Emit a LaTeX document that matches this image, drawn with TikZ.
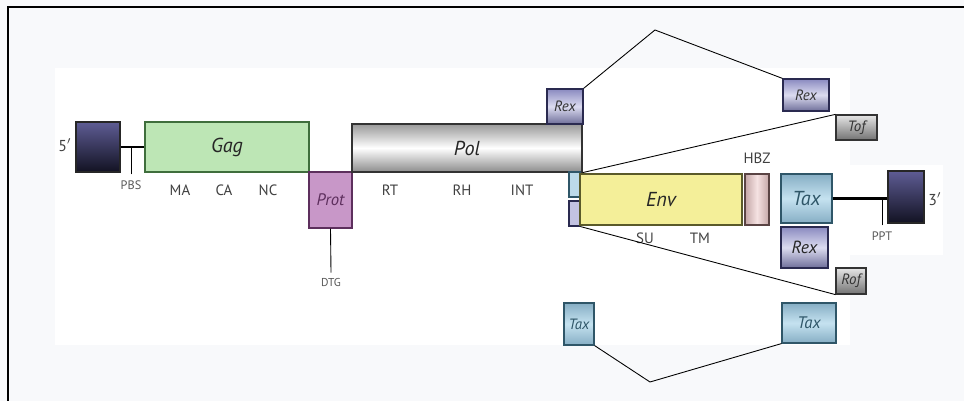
\documentclass[tikz,border=0pt]{standalone}
\usepackage{fontspec}
\setmainfont{PT Sans}

\definecolor{paper}{HTML}{F8F9FB}
\definecolor{ltrtop}{HTML}{5E5C94}
\definecolor{ltrbot}{HTML}{121222}
\definecolor{gagfill}{HTML}{BDE6B5}
\definecolor{gagline}{HTML}{3F6E3C}
\definecolor{protfill}{HTML}{C897C8}
\definecolor{protline}{HTML}{5D2F5D}
\definecolor{envfill}{HTML}{F4EF99}
\definecolor{envline}{HTML}{5A5A2A}
\definecolor{rexmid}{HTML}{DCDCF0}
\definecolor{rexedge}{HTML}{8A8AC0}
\definecolor{rexline}{HTML}{2A2A50}
\definecolor{taxmid}{HTML}{C5E2F0}
\definecolor{taxedge}{HTML}{86AEC4}
\definecolor{taxline}{HTML}{2F5668}
\definecolor{hbzmid}{HTML}{F5E2E2}
\definecolor{hbzedge}{HTML}{C4A6A6}
\definecolor{hbzline}{HTML}{5A4444}

\tikzset{
  seg/.style={draw, inner sep=0pt, line width=0.7pt},
  gene/.style={font=\itshape\fontsize{11.5}{13}\selectfont, text=black!85},
  small/.style={font=\itshape\fontsize{8.5}{10}\selectfont, text=black!80},
  lbl/.style={font=\fontsize{8.5}{10}\selectfont, text=black!75},
  tinylbl/.style={font=\fontsize{6.5}{7}\selectfont, text=black!65},
  ltr/.style={seg, draw=black!85, top color=ltrtop, bottom color=ltrbot},
  rexbox/.style={seg, draw=rexline, top color=rexedge, bottom color=rexedge!80!black, middle color=rexmid},
  taxbox/.style={seg, draw=taxline, top color=taxedge, bottom color=taxedge, middle color=taxmid},
  greybox/.style={seg, draw=black!80, top color=black!10, bottom color=black!55},
  link/.style={line width=0.5pt},
}

\begin{document}
\begin{tikzpicture}[x=0.02cm, y=-0.02cm]
  \useasboundingbox (0,0) rectangle (964,401);
  \fill[paper] (0,0) rectangle (964,401);
  \fill[white] (55,68) rectangle (850,345);
  \fill[white] (850,165) rectangle (943,255);
  \draw[line width=1.1pt] (8,401) -- (8,7) -- (964,7);

  \node[ltr, minimum width=8.8mm, minimum height=10mm] (ltr5) at (98,147) {};
  \node[lbl, font=\fontsize{9}{10}\selectfont] (five) at (65,145) {5$'$};
  \node[seg, draw=gagline, fill=gagfill, minimum width=32.8mm, minimum height=10mm, gene] (gag) at (227,147) {Gag};
  \node[seg, draw=protline, fill=protfill, minimum width=8.6mm, minimum height=11.2mm,
        font=\itshape\fontsize{9.5}{11}\selectfont, text=protline] (prot) at (330.5,200) {Prot};
  \node[seg, draw=black!80, top color=black!40, bottom color=black!45, middle color=white,
        minimum width=46mm, minimum height=9.6mm, gene] (pol) at (467,148) {Pol};

  \node[tinylbl, font=\fontsize{7}{8}\selectfont] (pbs) at (131,185) {PBS};
  \node[tinylbl] (dtg) at (331,283) {DTG};
  \node[lbl] (ma) at (180,190) {MA};
  \node[lbl] (ca) at (224,190) {CA};
  \node[lbl] (nc) at (268,190) {NC};
  \node[lbl] (rt) at (390,190) {RT};
  \node[lbl] (rh) at (462,190) {RH};
  \node[lbl] (int) at (522,190) {INT};

  \draw[line width=1.2pt] (ltr5) -- (gag);
  \draw[link] (pbs.north) -- (pbs.north |- gag.west);
  \draw[link] (prot.south) -- (dtg.north);

  \node[rexbox, minimum width=7.2mm, minimum height=7mm, small] (rexa) at (565,106.5) {Rex};
  \node[rexbox, minimum width=9.2mm, minimum height=6.4mm, small] (rexb) at (806,95) {Rex};
  \node[greybox, minimum width=8.2mm, minimum height=5mm, small] (tof) at (856.5,127.5) {Tof};
  \coordinate (peak) at (655,30);
  \draw[link] (rexa.north east) -- (peak) -- (rexb.north west);
  \draw[link] (pol.south east) -- (tof.north west);

  \node[seg, draw=taxline, fill=taxmid!85!taxedge, minimum width=2.2mm, minimum height=5mm] (sa) at (574.5,184.5) {};
  \node[seg, draw=rexline, fill=rexmid!70!rexedge, minimum width=2.2mm, minimum height=5mm] (sb) at (574.5,213.5) {};
  \node[seg, draw=envline, fill=envfill, minimum width=32.4mm, minimum height=10.2mm, gene] (env) at (661,199.5) {Env};
  \node[seg, draw=hbzline, top color=hbzedge, bottom color=hbzedge, middle color=hbzmid,
        shading angle=90, minimum width=4.8mm, minimum height=10.2mm] (hbz) at (757,199.5) {};
  \node[lbl, font=\fontsize{8.5}{10}\selectfont] (hbzl) at (757,158) {HBZ};
  \node[lbl] (su) at (645,238) {SU};
  \node[lbl] (tm) at (700,238) {TM};

  \node[greybox, minimum width=6mm, minimum height=5.2mm, small] (rof) at (851,281) {Rof};
  \draw[link] (sb.south east) -- (rof.south west);

  \node[taxbox, minimum width=10.2mm, minimum height=9.8mm, gene, text=taxline] (taxa) at (806.5,198.5) {Tax};
  \node[rexbox, minimum width=9.4mm, minimum height=8.2mm, gene, font=\itshape\fontsize{10}{11}\selectfont] (rexc) at (804.5,247.5) {Rex};
  \node[ltr, minimum width=7.2mm, minimum height=10.4mm] (ltr3) at (906,197) {};
  \node[lbl, font=\fontsize{9}{10}\selectfont] (three) at (935,199) {3$'$};
  \node[tinylbl, font=\fontsize{7}{8}\selectfont] (ppt) at (882,236) {PPT};
  \draw[line width=1.2pt] (taxa) -- (ltr3.west |- taxa.east);
  \draw[link] (ppt.north) -- (ppt.north |- taxa.east);

  \node[taxbox, minimum width=6mm, minimum height=8.4mm, small, text=taxline] (taxb) at (579,324) {Tax};
  \node[taxbox, minimum width=10.8mm, minimum height=8mm, small, text=taxline,
        font=\itshape\fontsize{9.5}{11}\selectfont] (taxc) at (809,323) {Tax};
  \coordinate (dip) at (650,382);
  \draw[link] (taxb.south east) -- (dip) -- (taxc.south west);
\end{tikzpicture}
\end{document}
